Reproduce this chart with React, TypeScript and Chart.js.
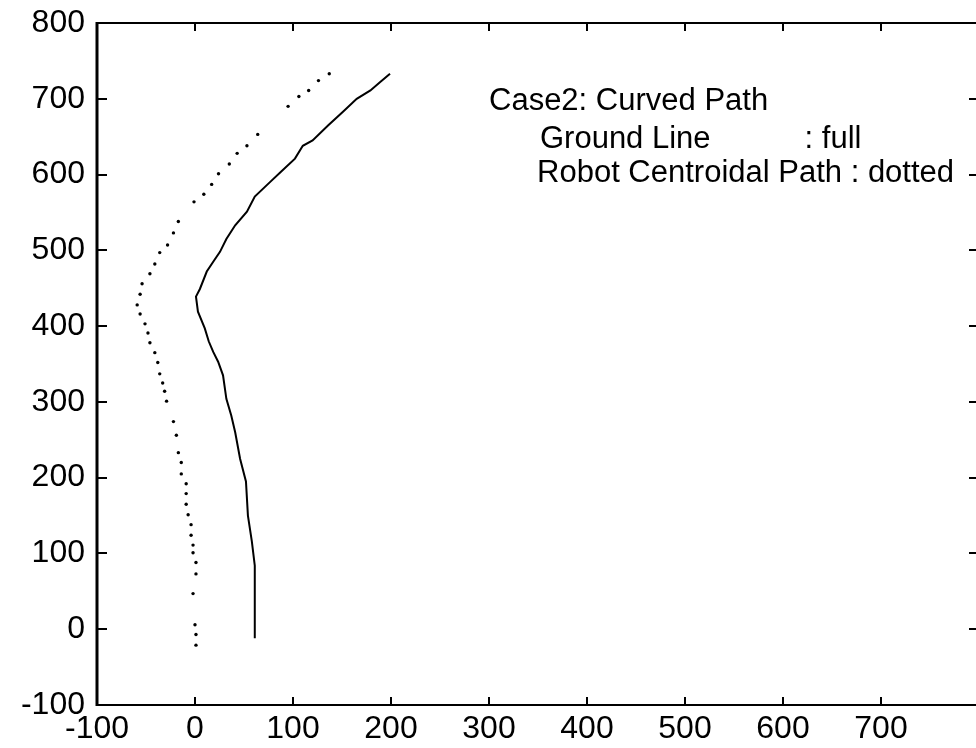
import React, { useEffect, useRef } from "react";
import { Chart, registerables } from "chart.js";

Chart.register(...registerables);

// Axis ranges / ticks
const xMin = -100;
const xMax = 800;
const yMin = -100;
const yMax = 800;
const tickStep = 100;

// Ground line (full)
const groundX = [61, 61, 58, 54, 52, 46, 41, 37, 32, 28.6, 23.6, 18.6, 14, 10, 3, 1, 5, 12, 18.6, 25.5, 32, 41, 53, 61, 76.5, 88, 102, 110, 120, 136, 151, 165, 179, 189, 199];
const groundY = [-12, 84, 116, 150, 195, 225, 260, 282, 304, 335, 353, 366, 380, 397, 419, 439, 449, 472, 485, 498, 515, 533, 551, 571, 590, 604, 621, 638, 645, 665, 683, 700, 711, 722, 733];

// Robot centroidal path (dotted)
const robotX = [1, 1, 0, -2, 1, 1, -2, -2, -4, -4, -7, -9, -9, -9, -14, -14, -17, -19, -22, -29, -31, -33, -36, -38, -41, -46, -48, -51, -56, -59, -56, -54, -46, -41, -36, -28, -22, -17, -1, 9, 17, 24, 35, 43, 53, 64, 95, 106, 116, 126, 137];
const robotY = [-21, -7, 6, 47, 73, 88, 101, 111, 124, 138, 151, 165, 179, 192, 205, 220, 233, 256, 274, 301, 314, 325, 337, 352, 365, 378, 391, 403, 416, 428, 442, 456, 469, 482, 497, 507, 523, 538, 564, 574, 587, 601, 614, 628, 638, 653, 690, 703, 711, 724, 733];

// Annotation text
const noteTitle = "Case2: Curved Path";
const noteGround = "Ground Line";
const noteGroundStyle = ": full";
const noteRobot = "Robot Centroidal Path : dotted";

const FONT = '"Liberation Sans", Arial, Helvetica, sans-serif';

const framePlugin = {
  id: "matlabFrame",
  afterDraw(chart: any) {
    const { ctx, chartArea: a, scales } = chart;
    const xs = scales.x;
    const ys = scales.y;
    ctx.save();
    ctx.strokeStyle = "#000";
    ctx.lineCap = "butt";
    // frame
    ctx.lineWidth = 2;
    ctx.beginPath();
    ctx.moveTo(a.left, a.top);
    ctx.lineTo(a.right, a.top);
    ctx.moveTo(a.left, a.bottom);
    ctx.lineTo(a.right, a.bottom);
    ctx.moveTo(a.right, a.top);
    ctx.lineTo(a.right, a.bottom);
    ctx.stroke();
    ctx.lineWidth = 3;
    ctx.beginPath();
    ctx.moveTo(a.left, a.top - 1);
    ctx.lineTo(a.left, a.bottom + 1);
    ctx.stroke();
    // inward ticks
    ctx.lineWidth = 2;
    ctx.beginPath();
    xs.ticks.forEach((t: any) => {
      const px = Math.round(xs.getPixelForValue(t.value));
      ctx.moveTo(px, a.bottom);
      ctx.lineTo(px, a.bottom - 8);
      ctx.moveTo(px, a.top);
      ctx.lineTo(px, a.top + 8);
    });
    ys.ticks.forEach((t: any) => {
      const py = Math.round(ys.getPixelForValue(t.value));
      ctx.moveTo(a.left, py);
      ctx.lineTo(a.left + 10, py);
      ctx.moveTo(a.right, py);
      ctx.lineTo(a.right - 10, py);
    });
    ctx.stroke();
    // annotation
    ctx.fillStyle = "#000";
    ctx.font = `31px ${FONT}`;
    ctx.textAlign = "left";
    ctx.textBaseline = "middle";
    ctx.fillText(noteTitle, xs.getPixelForValue(300), ys.getPixelForValue(696));
    ctx.fillText(noteGround, xs.getPixelForValue(352), ys.getPixelForValue(646));
    ctx.fillText(noteGroundStyle, xs.getPixelForValue(622), ys.getPixelForValue(646));
    ctx.fillText(noteRobot, xs.getPixelForValue(349), ys.getPixelForValue(602));
    ctx.restore();
  },
};

export default function App() {
  const ref = useRef<HTMLCanvasElement | null>(null);

  useEffect(() => {
    if (!ref.current) return;
    const chart = new Chart(ref.current, {
      type: "scatter",
      data: {
        datasets: [
          {
            label: "Ground Line",
            data: groundX.map((x, i) => ({ x, y: groundY[i] })),
            showLine: true,
            borderColor: "#000",
            borderWidth: 2,
            pointRadius: 0,
            tension: 0,
          },
          {
            label: "Robot Centroidal Path",
            data: robotX.map((x, i) => ({ x, y: robotY[i] })),
            showLine: false,
            backgroundColor: "#000",
            borderColor: "#000",
            borderWidth: 0,
            pointRadius: 1.7,
          },
        ],
      },
      options: {
        responsive: false,
        animation: false,
        devicePixelRatio: 1,
        layout: { padding: { top: 23, right: 11, left: 0, bottom: 0 } },
        plugins: {
          legend: { display: false },
          tooltip: { enabled: false },
        },
        scales: {
          x: {
            type: "linear",
            min: xMin,
            max: xMax,
            grid: { drawOnChartArea: false, drawTicks: false },
            border: { display: false },
            ticks: {
              stepSize: tickStep,
              color: "#000",
              padding: 5,
              maxRotation: 0,
              autoSkip: false,
              font: { family: FONT, size: 32 },
              callback: (v: any) => (v === xMax ? "" : String(v)),
            },
            afterFit: (s: any) => {
              s.height = 43;
              s.paddingLeft = 0;
              s.paddingRight = 0;
            },
          },
          y: {
            type: "linear",
            min: yMin,
            max: yMax,
            grid: { drawOnChartArea: false, drawTicks: false },
            border: { display: false },
            ticks: {
              stepSize: tickStep,
              color: "#000",
              padding: 12,
              autoSkip: false,
              font: { family: FONT, size: 32 },
              callback: (v: any) => String(v),
            },
            afterFit: (s: any) => {
              s.width = 97;
              s.paddingTop = 0;
              s.paddingBottom = 0;
            },
          },
        },
      },
      plugins: [framePlugin],
    });
    return () => chart.destroy();
  }, []);

  return (
    <div
      style={{
        position: "fixed",
        left: 0,
        top: 0,
        width: 976,
        height: 748,
        overflow: "hidden",
        background: "#fff",
      }}
    >
      <canvas ref={ref} width={990} height={748} style={{ display: "block" }} />
    </div>
  );
}
